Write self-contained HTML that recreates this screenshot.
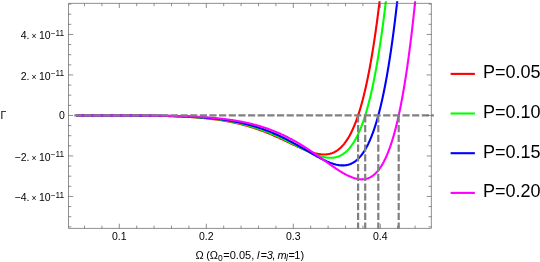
<!DOCTYPE html>
<html><head><meta charset="utf-8"><title>plot</title>
<style>html,body{margin:0;padding:0;background:#fff;}body{width:540px;height:262px;position:relative;overflow:hidden;font-family:"Liberation Sans",sans-serif;}</style></head>
<body>
<svg width="540" height="262" viewBox="0 0 540 262" style="position:absolute;left:0;top:0">
<defs><clipPath id="c"><rect x="60" y="1.2" width="380" height="230"/></clipPath></defs>
<g clip-path="url(#c)" fill="none" stroke-width="2.1" stroke-linejoin="round">
<path d="M76.06 115.45 L76.86 115.45 L77.67 115.45 L78.47 115.45 L79.27 115.45 L80.07 115.45 L80.87 115.45 L81.68 115.45 L82.48 115.45 L83.28 115.45 L84.08 115.45 L84.89 115.45 L85.69 115.46 L86.49 115.46 L87.29 115.46 L88.09 115.46 L88.90 115.46 L89.70 115.46 L90.50 115.46 L91.30 115.46 L92.10 115.46 L92.91 115.46 L93.71 115.46 L94.51 115.46 L95.31 115.46 L96.12 115.46 L96.92 115.46 L97.72 115.46 L98.52 115.46 L99.32 115.46 L100.13 115.47 L100.93 115.47 L101.73 115.47 L102.53 115.47 L103.34 115.47 L104.14 115.47 L104.94 115.47 L105.74 115.47 L106.54 115.47 L107.35 115.47 L108.15 115.48 L108.95 115.48 L109.75 115.48 L110.56 115.48 L111.36 115.48 L112.16 115.48 L112.96 115.48 L113.76 115.49 L114.57 115.49 L115.37 115.49 L116.17 115.49 L116.97 115.49 L117.77 115.50 L118.58 115.50 L119.38 115.50 L120.18 115.50 L120.98 115.51 L121.79 115.51 L122.59 115.51 L123.39 115.52 L124.19 115.52 L124.99 115.52 L125.80 115.53 L126.60 115.53 L127.40 115.53 L128.20 115.54 L129.01 115.54 L129.81 115.54 L130.61 115.55 L131.41 115.55 L132.21 115.56 L133.02 115.56 L133.82 115.57 L134.62 115.57 L135.42 115.58 L136.23 115.58 L137.03 115.59 L137.83 115.60 L138.63 115.60 L139.43 115.61 L140.24 115.61 L141.04 115.62 L141.84 115.63 L142.64 115.64 L143.44 115.64 L144.25 115.65 L145.05 115.66 L145.85 115.67 L146.65 115.68 L147.46 115.69 L148.26 115.70 L149.06 115.71 L149.86 115.72 L150.66 115.73 L151.47 115.74 L152.27 115.75 L153.07 115.76 L153.87 115.78 L154.68 115.79 L155.48 115.80 L156.28 115.82 L157.08 115.83 L157.88 115.84 L158.69 115.86 L159.49 115.87 L160.29 115.89 L161.09 115.91 L161.90 115.92 L162.70 115.94 L163.50 115.96 L164.30 115.98 L165.10 116.00 L165.91 116.02 L166.71 116.04 L167.51 116.06 L168.31 116.08 L169.11 116.11 L169.92 116.13 L170.72 116.15 L171.52 116.18 L172.32 116.20 L173.13 116.23 L173.93 116.26 L174.73 116.29 L175.53 116.32 L176.33 116.35 L177.14 116.38 L177.94 116.41 L178.74 116.44 L179.54 116.47 L180.35 116.51 L181.15 116.54 L181.95 116.58 L182.75 116.62 L183.55 116.66 L184.36 116.70 L185.16 116.74 L185.96 116.78 L186.76 116.82 L187.57 116.87 L188.37 116.91 L189.17 116.96 L189.97 117.01 L190.77 117.06 L191.58 117.11 L192.38 117.16 L193.18 117.21 L193.98 117.27 L194.78 117.33 L195.59 117.38 L196.39 117.44 L197.19 117.51 L197.99 117.57 L198.80 117.63 L199.60 117.70 L200.40 117.77 L201.20 117.84 L202.00 117.91 L202.81 117.98 L203.61 118.05 L204.41 118.13 L205.21 118.21 L206.02 118.29 L206.82 118.37 L207.62 118.46 L208.42 118.54 L209.22 118.63 L210.03 118.72 L210.83 118.81 L211.63 118.91 L212.43 119.01 L213.15 119.09 L213.86 119.18 L214.57 119.28 L215.29 119.37 L216.00 119.47 L216.71 119.56 L217.42 119.66 L218.14 119.76 L218.85 119.87 L219.56 119.97 L220.28 120.08 L220.99 120.19 L221.70 120.30 L222.42 120.41 L223.13 120.53 L223.84 120.65 L224.55 120.77 L225.27 120.89 L225.98 121.02 L226.69 121.14 L227.41 121.27 L228.12 121.40 L228.83 121.54 L229.55 121.67 L230.26 121.81 L230.97 121.95 L231.69 122.10 L232.40 122.24 L233.11 122.39 L233.82 122.54 L234.54 122.70 L235.25 122.85 L235.96 123.01 L236.68 123.18 L237.39 123.34 L238.10 123.51 L238.82 123.68 L239.53 123.85 L240.24 124.02 L240.96 124.20 L241.67 124.38 L242.38 124.57 L243.09 124.75 L243.81 124.94 L244.52 125.13 L245.23 125.33 L245.95 125.53 L246.66 125.73 L247.28 125.91 L247.91 126.09 L248.53 126.27 L249.16 126.45 L249.78 126.64 L250.40 126.83 L251.03 127.02 L251.65 127.21 L252.28 127.41 L252.90 127.61 L253.52 127.81 L254.15 128.01 L254.77 128.22 L255.39 128.43 L256.02 128.64 L256.64 128.85 L257.27 129.06 L257.89 129.28 L258.51 129.50 L259.14 129.72 L259.76 129.94 L260.39 130.17 L261.01 130.40 L261.63 130.63 L262.26 130.86 L262.88 131.09 L263.51 131.33 L264.13 131.57 L264.75 131.81 L265.38 132.06 L266.00 132.30 L266.63 132.55 L267.25 132.80 L267.87 133.05 L268.50 133.31 L269.12 133.56 L269.74 133.82 L270.37 134.08 L270.99 134.34 L271.62 134.61 L272.24 134.87 L272.86 135.14 L273.49 135.41 L274.11 135.68 L274.74 135.96 L275.36 136.23 L275.98 136.51 L276.61 136.79 L277.23 137.07 L277.86 137.35 L278.48 137.63 L279.10 137.92 L279.73 138.20 L280.35 138.49 L280.98 138.78 L281.60 139.07 L282.22 139.36 L282.85 139.65 L283.47 139.94 L284.10 140.23 L284.72 140.53 L285.34 140.82 L285.97 141.12 L286.59 141.42 L287.21 141.71 L287.84 142.01 L288.46 142.31 L289.09 142.60 L289.71 142.90 L290.33 143.20 L290.96 143.50 L291.58 143.79 L292.21 144.09 L292.83 144.39 L293.45 144.68 L294.08 144.98 L294.70 145.27 L295.33 145.56 L295.95 145.86 L296.57 146.15 L297.20 146.44 L297.82 146.72 L298.45 147.01 L299.07 147.29 L299.69 147.57 L300.32 147.85 L300.94 148.13 L301.57 148.40 L302.19 148.68 L302.81 148.94 L303.44 149.21 L304.06 149.47 L304.68 149.73 L305.31 149.98 L305.93 150.23 L306.56 150.48 L307.18 150.72 L307.80 150.96 L308.43 151.19 L309.05 151.42 L309.68 151.64 L310.30 151.85 L310.92 152.06 L311.55 152.27 L312.17 152.46 L312.80 152.65 L313.42 152.83 L314.13 153.03 L314.85 153.22 L315.56 153.40 L316.27 153.56 L316.98 153.72 L317.70 153.86 L318.41 153.99 L319.12 154.10 L319.84 154.21 L320.64 154.30 L321.44 154.38 L322.24 154.44 L323.05 154.47 L323.85 154.49 L324.65 154.48 L325.45 154.44 L326.25 154.38 L327.06 154.30 L327.77 154.20 L328.48 154.08 L329.20 153.94 L329.91 153.77 L330.62 153.57 L331.25 153.38 L331.87 153.17 L332.49 152.94 L333.12 152.69 L333.74 152.41 L334.37 152.11 L334.90 151.84 L335.44 151.55 L335.97 151.23 L336.50 150.91 L337.04 150.56 L337.57 150.19 L338.11 149.80 L338.64 149.39 L339.09 149.03 L339.54 148.66 L339.98 148.28 L340.43 147.87 L340.87 147.46 L341.32 147.02 L341.76 146.57 L342.21 146.10 L342.65 145.62 L343.10 145.12 L343.55 144.60 L343.99 144.06 L344.35 143.62 L344.70 143.16 L345.06 142.69 L345.42 142.21 L345.77 141.72 L346.13 141.21 L346.49 140.70 L346.84 140.17 L347.20 139.62 L347.56 139.06 L347.91 138.49 L348.27 137.91 L348.63 137.31 L348.98 136.69 L349.34 136.06 L349.70 135.42 L350.05 134.76 L350.41 134.09 L350.77 133.40 L351.12 132.70 L351.39 132.16 L351.66 131.61 L351.92 131.06 L352.19 130.49 L352.46 129.92 L352.73 129.33 L352.99 128.74 L353.26 128.14 L353.53 127.52 L353.80 126.90 L354.06 126.27 L354.33 125.63 L354.60 124.97 L354.87 124.31 L355.13 123.64 L355.40 122.95 L355.67 122.26 L355.94 121.56 L356.20 120.84 L356.47 120.12 L356.74 119.38 L357.01 118.63 L357.27 117.87 L357.54 117.10 L357.81 116.32 L358.07 115.53 L358.34 114.72 L358.61 113.90 L358.88 113.08 L359.14 112.23 L359.41 111.38 L359.68 110.52 L359.95 109.64 L360.21 108.75 L360.48 107.85 L360.75 106.93 L361.02 106.00 L361.19 105.38 L361.37 104.75 L361.55 104.11 L361.73 103.46 L361.91 102.82 L362.09 102.16 L362.26 101.50 L362.44 100.83 L362.62 100.16 L362.80 99.48 L362.98 98.79 L363.16 98.10 L363.33 97.40 L363.51 96.70 L363.69 95.99 L363.87 95.27 L364.05 94.54 L364.22 93.81 L364.40 93.08 L364.58 92.33 L364.76 91.58 L364.94 90.83 L365.12 90.06 L365.29 89.29 L365.47 88.52 L365.65 87.73 L365.83 86.94 L366.01 86.15 L366.19 85.34 L366.36 84.53 L366.54 83.71 L366.72 82.89 L366.90 82.05 L367.08 81.21 L367.26 80.37 L367.43 79.51 L367.61 78.65 L367.79 77.78 L367.97 76.91 L368.15 76.02 L368.32 75.13 L368.50 74.23 L368.68 73.33 L368.86 72.41 L369.04 71.49 L369.22 70.56 L369.39 69.62 L369.57 68.68 L369.75 67.72 L369.93 66.76 L370.11 65.79 L370.29 64.82 L370.46 63.83 L370.64 62.84 L370.82 61.84 L371.00 60.83 L371.18 59.81 L371.36 58.78 L371.53 57.75 L371.71 56.70 L371.89 55.65 L372.07 54.59 L372.25 53.52 L372.43 52.44 L372.60 51.36 L372.78 50.26 L372.96 49.16 L373.14 48.04 L373.32 46.92 L373.49 45.79 L373.67 44.65 L373.85 43.50 L374.03 42.34 L374.21 41.17 L374.39 40.00 L374.56 38.81 L374.74 37.61 L374.92 36.41 L375.10 35.19 L375.28 33.97 L375.46 32.73 L375.63 31.49 L375.81 30.24 L375.99 28.97 L376.17 27.70 L376.35 26.42 L376.53 25.12 L376.70 23.82 L376.88 22.50 L377.06 21.18 L377.24 19.84 L377.42 18.50 L377.59 17.14 L377.77 15.78 L377.95 14.40 L378.13 13.02 L378.31 11.62 L378.49 10.21 L378.66 8.79 L378.75 8.08 L378.84 7.36 L378.93 6.64 L379.02 5.92 L379.11 5.19 L379.20 4.47 L379.29 3.74 L379.38 3.00 L379.47 2.27 L379.56 1.53 L379.64 0.79 L379.73 0.04 L379.82 -0.70 L379.91 -1.45 L380.00 -2.20 L380.09 -2.96" stroke="#ff0000"/>
<path d="M76.06 115.45 L76.86 115.45 L77.67 115.45 L78.47 115.45 L79.27 115.45 L80.07 115.45 L80.87 115.45 L81.68 115.45 L82.48 115.45 L83.28 115.45 L84.08 115.45 L84.89 115.45 L85.69 115.45 L86.49 115.46 L87.29 115.46 L88.09 115.46 L88.90 115.46 L89.70 115.46 L90.50 115.46 L91.30 115.46 L92.10 115.46 L92.91 115.46 L93.71 115.46 L94.51 115.46 L95.31 115.46 L96.12 115.46 L96.92 115.46 L97.72 115.46 L98.52 115.46 L99.32 115.46 L100.13 115.46 L100.93 115.46 L101.73 115.47 L102.53 115.47 L103.34 115.47 L104.14 115.47 L104.94 115.47 L105.74 115.47 L106.54 115.47 L107.35 115.47 L108.15 115.47 L108.95 115.47 L109.75 115.48 L110.56 115.48 L111.36 115.48 L112.16 115.48 L112.96 115.48 L113.76 115.48 L114.57 115.49 L115.37 115.49 L116.17 115.49 L116.97 115.49 L117.77 115.49 L118.58 115.49 L119.38 115.50 L120.18 115.50 L120.98 115.50 L121.79 115.50 L122.59 115.51 L123.39 115.51 L124.19 115.51 L124.99 115.52 L125.80 115.52 L126.60 115.52 L127.40 115.52 L128.20 115.53 L129.01 115.53 L129.81 115.54 L130.61 115.54 L131.41 115.54 L132.21 115.55 L133.02 115.55 L133.82 115.56 L134.62 115.56 L135.42 115.57 L136.23 115.57 L137.03 115.58 L137.83 115.58 L138.63 115.59 L139.43 115.59 L140.24 115.60 L141.04 115.61 L141.84 115.61 L142.64 115.62 L143.44 115.63 L144.25 115.63 L145.05 115.64 L145.85 115.65 L146.65 115.66 L147.46 115.67 L148.26 115.68 L149.06 115.69 L149.86 115.69 L150.66 115.70 L151.47 115.71 L152.27 115.73 L153.07 115.74 L153.87 115.75 L154.68 115.76 L155.48 115.77 L156.28 115.78 L157.08 115.80 L157.88 115.81 L158.69 115.82 L159.49 115.84 L160.29 115.85 L161.09 115.87 L161.90 115.88 L162.70 115.90 L163.50 115.92 L164.30 115.93 L165.10 115.95 L165.91 115.97 L166.71 115.99 L167.51 116.01 L168.31 116.03 L169.11 116.05 L169.92 116.07 L170.72 116.09 L171.52 116.12 L172.32 116.14 L173.13 116.17 L173.93 116.19 L174.73 116.22 L175.53 116.24 L176.33 116.27 L177.14 116.30 L177.94 116.33 L178.74 116.36 L179.54 116.39 L180.35 116.42 L181.15 116.45 L181.95 116.49 L182.75 116.52 L183.55 116.56 L184.36 116.60 L185.16 116.63 L185.96 116.67 L186.76 116.71 L187.57 116.75 L188.37 116.80 L189.17 116.84 L189.97 116.88 L190.77 116.93 L191.58 116.98 L192.38 117.02 L193.18 117.07 L193.98 117.13 L194.78 117.18 L195.59 117.23 L196.39 117.29 L197.19 117.34 L197.99 117.40 L198.80 117.46 L199.60 117.52 L200.40 117.59 L201.20 117.65 L202.00 117.72 L202.81 117.78 L203.61 117.85 L204.41 117.93 L205.21 118.00 L206.02 118.07 L206.82 118.15 L207.62 118.23 L208.42 118.31 L209.22 118.39 L210.03 118.48 L210.83 118.56 L211.63 118.65 L212.43 118.74 L213.24 118.83 L214.04 118.93 L214.84 119.03 L215.55 119.11 L216.27 119.21 L216.98 119.30 L217.69 119.39 L218.40 119.49 L219.12 119.58 L219.83 119.68 L220.54 119.78 L221.26 119.89 L221.97 119.99 L222.68 120.10 L223.40 120.21 L224.11 120.32 L224.82 120.44 L225.54 120.55 L226.25 120.67 L226.96 120.79 L227.67 120.91 L228.39 121.04 L229.10 121.17 L229.81 121.30 L230.53 121.43 L231.24 121.56 L231.95 121.70 L232.67 121.84 L233.38 121.98 L234.09 122.12 L234.81 122.27 L235.52 122.42 L236.23 122.57 L236.94 122.72 L237.66 122.88 L238.37 123.04 L239.08 123.20 L239.80 123.37 L240.51 123.54 L241.22 123.71 L241.94 123.88 L242.65 124.06 L243.36 124.23 L244.07 124.42 L244.79 124.60 L245.50 124.79 L246.21 124.98 L246.93 125.17 L247.64 125.37 L248.35 125.57 L248.98 125.74 L249.60 125.92 L250.22 126.10 L250.85 126.29 L251.47 126.47 L252.10 126.66 L252.72 126.85 L253.34 127.04 L253.97 127.24 L254.59 127.44 L255.22 127.64 L255.84 127.84 L256.46 128.04 L257.09 128.25 L257.71 128.46 L258.34 128.67 L258.96 128.88 L259.58 129.10 L260.21 129.32 L260.83 129.54 L261.46 129.77 L262.08 129.99 L262.70 130.22 L263.33 130.45 L263.95 130.69 L264.58 130.92 L265.20 131.16 L265.82 131.40 L266.45 131.64 L267.07 131.89 L267.69 132.14 L268.32 132.39 L268.94 132.64 L269.57 132.89 L270.19 133.15 L270.81 133.41 L271.44 133.67 L272.06 133.93 L272.69 134.20 L273.31 134.47 L273.93 134.74 L274.56 135.01 L275.18 135.29 L275.81 135.56 L276.43 135.84 L277.05 136.12 L277.68 136.41 L278.30 136.69 L278.93 136.98 L279.55 137.27 L280.17 137.56 L280.80 137.85 L281.42 138.14 L282.05 138.44 L282.67 138.74 L283.29 139.03 L283.92 139.34 L284.54 139.64 L285.16 139.94 L285.79 140.25 L286.41 140.55 L287.04 140.86 L287.66 141.17 L288.20 141.44 L288.73 141.70 L289.26 141.97 L289.80 142.24 L290.33 142.51 L290.87 142.77 L291.40 143.04 L291.94 143.31 L292.47 143.58 L293.01 143.86 L293.54 144.13 L294.08 144.40 L294.61 144.67 L295.15 144.94 L295.68 145.21 L296.22 145.49 L296.75 145.76 L297.29 146.03 L297.82 146.30 L298.36 146.57 L298.89 146.84 L299.43 147.11 L299.96 147.38 L300.50 147.65 L301.03 147.92 L301.57 148.19 L302.10 148.45 L302.63 148.72 L303.26 149.03 L303.88 149.33 L304.51 149.64 L305.13 149.94 L305.75 150.24 L306.38 150.54 L307.00 150.84 L307.63 151.13 L308.25 151.42 L308.87 151.71 L309.50 151.99 L310.12 152.27 L310.75 152.55 L311.37 152.82 L311.99 153.09 L312.62 153.35 L313.24 153.61 L313.87 153.87 L314.49 154.12 L315.11 154.36 L315.74 154.60 L316.36 154.83 L316.98 155.06 L317.61 155.28 L318.23 155.49 L318.86 155.69 L319.48 155.89 L320.10 156.08 L320.73 156.26 L321.44 156.46 L322.15 156.65 L322.87 156.82 L323.58 156.99 L324.29 157.14 L325.01 157.27 L325.72 157.39 L326.43 157.50 L327.15 157.59 L327.95 157.67 L328.75 157.73 L329.55 157.77 L330.35 157.79 L331.16 157.78 L331.96 157.75 L332.76 157.69 L333.56 157.60 L334.28 157.50 L334.99 157.38 L335.70 157.23 L336.42 157.05 L337.13 156.85 L337.75 156.65 L338.38 156.44 L339.00 156.20 L339.62 155.93 L340.25 155.65 L340.87 155.34 L341.41 155.05 L341.94 154.75 L342.48 154.43 L343.01 154.08 L343.55 153.72 L344.08 153.34 L344.62 152.94 L345.15 152.51 L345.60 152.14 L346.04 151.76 L346.49 151.35 L346.93 150.94 L347.38 150.50 L347.82 150.05 L348.27 149.58 L348.72 149.10 L349.16 148.60 L349.61 148.07 L350.05 147.53 L350.41 147.09 L350.77 146.63 L351.12 146.16 L351.48 145.68 L351.84 145.19 L352.19 144.68 L352.55 144.16 L352.91 143.62 L353.26 143.08 L353.62 142.51 L353.97 141.94 L354.33 141.35 L354.69 140.75 L355.04 140.13 L355.40 139.49 L355.76 138.85 L356.11 138.18 L356.47 137.51 L356.83 136.81 L357.18 136.10 L357.45 135.56 L357.72 135.01 L357.99 134.45 L358.25 133.88 L358.52 133.30 L358.79 132.71 L359.06 132.11 L359.32 131.50 L359.59 130.88 L359.86 130.25 L360.12 129.61 L360.39 128.96 L360.66 128.31 L360.93 127.64 L361.19 126.96 L361.46 126.27 L361.73 125.57 L362.00 124.85 L362.26 124.13 L362.53 123.40 L362.80 122.65 L363.07 121.90 L363.33 121.13 L363.60 120.35 L363.87 119.56 L364.14 118.76 L364.40 117.95 L364.67 117.12 L364.94 116.28 L365.21 115.43 L365.47 114.57 L365.74 113.70 L366.01 112.81 L366.27 111.91 L366.54 111.00 L366.81 110.07 L366.99 109.45 L367.17 108.82 L367.34 108.18 L367.52 107.54 L367.70 106.89 L367.88 106.24 L368.06 105.58 L368.24 104.91 L368.41 104.24 L368.59 103.56 L368.77 102.88 L368.95 102.18 L369.13 101.49 L369.31 100.78 L369.48 100.07 L369.66 99.36 L369.84 98.64 L370.02 97.91 L370.20 97.17 L370.37 96.43 L370.55 95.68 L370.73 94.92 L370.91 94.16 L371.09 93.39 L371.27 92.62 L371.44 91.83 L371.62 91.04 L371.80 90.25 L371.98 89.44 L372.16 88.63 L372.34 87.82 L372.51 86.99 L372.69 86.16 L372.87 85.32 L373.05 84.47 L373.23 83.62 L373.41 82.76 L373.58 81.89 L373.76 81.01 L373.94 80.13 L374.12 79.24 L374.30 78.34 L374.48 77.44 L374.65 76.52 L374.83 75.60 L375.01 74.67 L375.19 73.73 L375.37 72.79 L375.54 71.84 L375.72 70.87 L375.90 69.91 L376.08 68.93 L376.26 67.94 L376.44 66.95 L376.61 65.95 L376.79 64.94 L376.97 63.92 L377.15 62.89 L377.33 61.86 L377.51 60.81 L377.68 59.76 L377.86 58.70 L378.04 57.63 L378.22 56.55 L378.40 55.47 L378.58 54.37 L378.75 53.26 L378.93 52.15 L379.11 51.03 L379.29 49.90 L379.47 48.75 L379.64 47.60 L379.82 46.44 L380.00 45.28 L380.18 44.10 L380.36 42.91 L380.54 41.71 L380.71 40.51 L380.89 39.29 L381.07 38.06 L381.25 36.83 L381.43 35.58 L381.61 34.33 L381.78 33.06 L381.96 31.79 L382.14 30.50 L382.32 29.21 L382.50 27.90 L382.68 26.59 L382.85 25.26 L383.03 23.92 L383.21 22.58 L383.39 21.22 L383.57 19.85 L383.74 18.48 L383.92 17.09 L384.10 15.69 L384.28 14.28 L384.46 12.86 L384.55 12.14 L384.64 11.42 L384.73 10.70 L384.81 9.98 L384.90 9.25 L384.99 8.53 L385.08 7.80 L385.17 7.06 L385.26 6.32 L385.35 5.58 L385.44 4.84 L385.53 4.10 L385.62 3.35 L385.71 2.60 L385.79 1.84 L385.88 1.09 L385.97 0.33 L386.06 -0.43 L386.15 -1.20 L386.24 -1.97 L386.33 -2.74" stroke="#00ff00"/>
<path d="M76.06 115.45 L76.86 115.45 L77.67 115.45 L78.47 115.45 L79.27 115.45 L80.07 115.45 L80.87 115.45 L81.68 115.45 L82.48 115.45 L83.28 115.45 L84.08 115.45 L84.89 115.45 L85.69 115.45 L86.49 115.45 L87.29 115.45 L88.09 115.45 L88.90 115.46 L89.70 115.46 L90.50 115.46 L91.30 115.46 L92.10 115.46 L92.91 115.46 L93.71 115.46 L94.51 115.46 L95.31 115.46 L96.12 115.46 L96.92 115.46 L97.72 115.46 L98.52 115.46 L99.32 115.46 L100.13 115.46 L100.93 115.46 L101.73 115.46 L102.53 115.46 L103.34 115.46 L104.14 115.47 L104.94 115.47 L105.74 115.47 L106.54 115.47 L107.35 115.47 L108.15 115.47 L108.95 115.47 L109.75 115.47 L110.56 115.47 L111.36 115.47 L112.16 115.48 L112.96 115.48 L113.76 115.48 L114.57 115.48 L115.37 115.48 L116.17 115.48 L116.97 115.48 L117.77 115.49 L118.58 115.49 L119.38 115.49 L120.18 115.49 L120.98 115.49 L121.79 115.50 L122.59 115.50 L123.39 115.50 L124.19 115.50 L124.99 115.51 L125.80 115.51 L126.60 115.51 L127.40 115.51 L128.20 115.52 L129.01 115.52 L129.81 115.52 L130.61 115.53 L131.41 115.53 L132.21 115.53 L133.02 115.54 L133.82 115.54 L134.62 115.55 L135.42 115.55 L136.23 115.55 L137.03 115.56 L137.83 115.56 L138.63 115.57 L139.43 115.57 L140.24 115.58 L141.04 115.58 L141.84 115.59 L142.64 115.60 L143.44 115.60 L144.25 115.61 L145.05 115.62 L145.85 115.62 L146.65 115.63 L147.46 115.64 L148.26 115.64 L149.06 115.65 L149.86 115.66 L150.66 115.67 L151.47 115.68 L152.27 115.69 L153.07 115.70 L153.87 115.71 L154.68 115.72 L155.48 115.73 L156.28 115.74 L157.08 115.75 L157.88 115.76 L158.69 115.77 L159.49 115.79 L160.29 115.80 L161.09 115.81 L161.90 115.83 L162.70 115.84 L163.50 115.85 L164.30 115.87 L165.10 115.89 L165.91 115.90 L166.71 115.92 L167.51 115.93 L168.31 115.95 L169.11 115.97 L169.92 115.99 L170.72 116.01 L171.52 116.03 L172.32 116.05 L173.13 116.07 L173.93 116.09 L174.73 116.12 L175.53 116.14 L176.33 116.16 L177.14 116.19 L177.94 116.21 L178.74 116.24 L179.54 116.27 L180.35 116.30 L181.15 116.32 L181.95 116.35 L182.75 116.38 L183.55 116.42 L184.36 116.45 L185.16 116.48 L185.96 116.52 L186.76 116.55 L187.57 116.59 L188.37 116.63 L189.17 116.66 L189.97 116.70 L190.77 116.74 L191.58 116.78 L192.38 116.83 L193.18 116.87 L193.98 116.92 L194.78 116.96 L195.59 117.01 L196.39 117.06 L197.19 117.11 L197.99 117.16 L198.80 117.21 L199.60 117.27 L200.40 117.33 L201.20 117.38 L202.00 117.44 L202.81 117.50 L203.61 117.56 L204.41 117.63 L205.21 117.69 L206.02 117.76 L206.82 117.83 L207.62 117.90 L208.42 117.97 L209.22 118.04 L210.03 118.12 L210.83 118.20 L211.63 118.28 L212.43 118.36 L213.24 118.44 L214.04 118.53 L214.84 118.61 L215.64 118.70 L216.44 118.79 L217.25 118.89 L218.05 118.98 L218.76 119.07 L219.47 119.16 L220.19 119.25 L220.90 119.34 L221.61 119.44 L222.33 119.53 L223.04 119.63 L223.75 119.73 L224.47 119.83 L225.18 119.94 L225.89 120.04 L226.61 120.15 L227.32 120.26 L228.03 120.37 L228.74 120.49 L229.46 120.60 L230.17 120.72 L230.88 120.85 L231.60 120.97 L232.31 121.09 L233.02 121.22 L233.74 121.35 L234.45 121.49 L235.16 121.62 L235.87 121.76 L236.59 121.90 L237.30 122.04 L238.01 122.19 L238.73 122.34 L239.44 122.49 L240.15 122.64 L240.87 122.80 L241.58 122.95 L242.29 123.12 L243.01 123.28 L243.72 123.45 L244.43 123.62 L245.14 123.79 L245.86 123.96 L246.57 124.14 L247.28 124.32 L248.00 124.51 L248.71 124.69 L249.42 124.88 L250.14 125.08 L250.85 125.27 L251.56 125.47 L252.19 125.65 L252.81 125.83 L253.43 126.01 L254.06 126.19 L254.68 126.38 L255.31 126.57 L255.93 126.76 L256.55 126.95 L257.18 127.15 L257.80 127.35 L258.43 127.55 L259.05 127.75 L259.67 127.96 L260.30 128.17 L260.92 128.38 L261.54 128.59 L262.17 128.81 L262.79 129.03 L263.42 129.25 L264.04 129.48 L264.66 129.70 L265.29 129.93 L265.91 130.17 L266.54 130.40 L267.16 130.64 L267.78 130.88 L268.41 131.12 L269.03 131.37 L269.66 131.62 L270.28 131.87 L270.90 132.12 L271.53 132.38 L272.15 132.64 L272.78 132.90 L273.40 133.16 L274.02 133.43 L274.65 133.70 L275.27 133.97 L275.90 134.24 L276.52 134.52 L277.14 134.80 L277.77 135.08 L278.39 135.37 L279.01 135.66 L279.64 135.95 L280.26 136.24 L280.89 136.54 L281.51 136.83 L282.13 137.13 L282.76 137.44 L283.38 137.74 L284.01 138.05 L284.54 138.32 L285.08 138.58 L285.61 138.85 L286.15 139.12 L286.68 139.40 L287.21 139.67 L287.75 139.95 L288.28 140.23 L288.82 140.50 L289.35 140.79 L289.89 141.07 L290.42 141.35 L290.96 141.64 L291.49 141.92 L292.03 142.21 L292.56 142.50 L293.10 142.79 L293.63 143.09 L294.17 143.38 L294.70 143.67 L295.24 143.97 L295.77 144.27 L296.31 144.57 L296.84 144.87 L297.38 145.17 L297.91 145.47 L298.45 145.77 L298.98 146.08 L299.52 146.38 L300.05 146.69 L300.58 146.99 L301.12 147.30 L301.65 147.61 L302.19 147.92 L302.72 148.22 L303.26 148.53 L303.79 148.84 L304.33 149.15 L304.86 149.46 L305.40 149.78 L305.93 150.09 L306.47 150.40 L307.00 150.71 L307.54 151.02 L308.07 151.33 L308.61 151.64 L309.14 151.95 L309.68 152.26 L310.21 152.57 L310.75 152.88 L311.28 153.19 L311.82 153.50 L312.35 153.80 L312.88 154.11 L313.42 154.41 L313.95 154.72 L314.49 155.02 L315.02 155.32 L315.56 155.62 L316.09 155.92 L316.63 156.22 L317.16 156.51 L317.70 156.80 L318.23 157.10 L318.77 157.38 L319.30 157.67 L319.84 157.95 L320.37 158.24 L320.91 158.52 L321.44 158.79 L321.98 159.06 L322.51 159.33 L323.05 159.60 L323.67 159.91 L324.29 160.21 L324.92 160.51 L325.54 160.80 L326.17 161.08 L326.79 161.36 L327.41 161.64 L328.04 161.90 L328.66 162.16 L329.29 162.42 L329.91 162.66 L330.53 162.90 L331.16 163.13 L331.78 163.35 L332.40 163.56 L333.03 163.76 L333.65 163.95 L334.28 164.14 L334.99 164.33 L335.70 164.52 L336.42 164.68 L337.13 164.84 L337.84 164.97 L338.55 165.09 L339.27 165.20 L340.07 165.29 L340.87 165.36 L341.67 165.40 L342.48 165.42 L343.28 165.42 L344.08 165.38 L344.88 165.32 L345.69 165.22 L346.40 165.11 L347.11 164.97 L347.82 164.81 L348.54 164.62 L349.16 164.43 L349.79 164.21 L350.41 163.97 L351.03 163.71 L351.66 163.43 L352.19 163.16 L352.73 162.88 L353.26 162.57 L353.80 162.25 L354.33 161.90 L354.87 161.54 L355.40 161.15 L355.94 160.74 L356.38 160.38 L356.83 160.01 L357.27 159.61 L357.72 159.21 L358.16 158.78 L358.61 158.34 L359.06 157.88 L359.50 157.40 L359.95 156.91 L360.39 156.39 L360.84 155.86 L361.28 155.30 L361.64 154.85 L362.00 154.38 L362.35 153.89 L362.71 153.40 L363.07 152.89 L363.42 152.37 L363.78 151.83 L364.14 151.28 L364.49 150.71 L364.85 150.13 L365.21 149.54 L365.56 148.93 L365.92 148.31 L366.27 147.67 L366.63 147.01 L366.99 146.34 L367.34 145.66 L367.70 144.95 L367.97 144.41 L368.24 143.87 L368.50 143.31 L368.77 142.74 L369.04 142.17 L369.31 141.58 L369.57 140.99 L369.84 140.38 L370.11 139.77 L370.37 139.14 L370.64 138.51 L370.91 137.86 L371.18 137.20 L371.44 136.54 L371.71 135.86 L371.98 135.17 L372.25 134.47 L372.51 133.76 L372.78 133.04 L373.05 132.30 L373.32 131.56 L373.58 130.80 L373.85 130.04 L374.12 129.26 L374.39 128.47 L374.65 127.66 L374.92 126.85 L375.19 126.02 L375.46 125.18 L375.72 124.33 L375.99 123.46 L376.26 122.59 L376.53 121.70 L376.79 120.79 L377.06 119.88 L377.33 118.95 L377.51 118.32 L377.68 117.69 L377.86 117.05 L378.04 116.40 L378.22 115.75 L378.40 115.09 L378.58 114.43 L378.75 113.76 L378.93 113.08 L379.11 112.40 L379.29 111.71 L379.47 111.01 L379.64 110.31 L379.82 109.60 L380.00 108.89 L380.18 108.17 L380.36 107.44 L380.54 106.71 L380.71 105.96 L380.89 105.22 L381.07 104.46 L381.25 103.70 L381.43 102.93 L381.61 102.16 L381.78 101.37 L381.96 100.58 L382.14 99.79 L382.32 98.98 L382.50 98.17 L382.68 97.36 L382.85 96.53 L383.03 95.70 L383.21 94.86 L383.39 94.01 L383.57 93.16 L383.74 92.29 L383.92 91.42 L384.10 90.55 L384.28 89.66 L384.46 88.77 L384.64 87.87 L384.81 86.96 L384.99 86.05 L385.17 85.12 L385.35 84.19 L385.53 83.25 L385.71 82.30 L385.88 81.35 L386.06 80.38 L386.24 79.41 L386.42 78.43 L386.60 77.44 L386.78 76.44 L386.95 75.44 L387.13 74.43 L387.31 73.40 L387.49 72.37 L387.67 71.33 L387.84 70.28 L388.02 69.23 L388.20 68.16 L388.38 67.09 L388.56 66.00 L388.74 64.91 L388.91 63.81 L389.09 62.70 L389.27 61.58 L389.45 60.45 L389.63 59.31 L389.81 58.17 L389.98 57.01 L390.16 55.84 L390.34 54.67 L390.52 53.48 L390.70 52.29 L390.88 51.08 L391.05 49.87 L391.23 48.65 L391.41 47.41 L391.59 46.17 L391.77 44.92 L391.94 43.65 L392.12 42.38 L392.30 41.09 L392.48 39.80 L392.66 38.50 L392.84 37.18 L393.01 35.86 L393.19 34.52 L393.37 33.18 L393.55 31.82 L393.73 30.45 L393.91 29.07 L394.08 27.69 L394.26 26.29 L394.44 24.88 L394.62 23.45 L394.71 22.74 L394.80 22.02 L394.89 21.30 L394.98 20.58 L395.06 19.85 L395.15 19.12 L395.24 18.39 L395.33 17.66 L395.42 16.92 L395.51 16.18 L395.60 15.44 L395.69 14.69 L395.78 13.94 L395.87 13.19 L395.96 12.43 L396.04 11.68 L396.13 10.92 L396.22 10.15 L396.31 9.39 L396.40 8.62 L396.49 7.85 L396.58 7.07 L396.67 6.29 L396.76 5.51 L396.85 4.73 L396.94 3.94 L397.03 3.15 L397.11 2.36 L397.20 1.56 L397.29 0.76 L397.38 -0.04 L397.47 -0.84 L397.56 -1.65 L397.65 -2.46" stroke="#0000ff"/>
<path d="M76.06 115.45 L76.86 115.45 L77.67 115.45 L78.47 115.45 L79.27 115.45 L80.07 115.45 L80.87 115.45 L81.68 115.45 L82.48 115.45 L83.28 115.45 L84.08 115.45 L84.89 115.45 L85.69 115.45 L86.49 115.45 L87.29 115.45 L88.09 115.45 L88.90 115.45 L89.70 115.45 L90.50 115.45 L91.30 115.45 L92.10 115.46 L92.91 115.46 L93.71 115.46 L94.51 115.46 L95.31 115.46 L96.12 115.46 L96.92 115.46 L97.72 115.46 L98.52 115.46 L99.32 115.46 L100.13 115.46 L100.93 115.46 L101.73 115.46 L102.53 115.46 L103.34 115.46 L104.14 115.46 L104.94 115.46 L105.74 115.46 L106.54 115.46 L107.35 115.46 L108.15 115.47 L108.95 115.47 L109.75 115.47 L110.56 115.47 L111.36 115.47 L112.16 115.47 L112.96 115.47 L113.76 115.47 L114.57 115.47 L115.37 115.47 L116.17 115.48 L116.97 115.48 L117.77 115.48 L118.58 115.48 L119.38 115.48 L120.18 115.48 L120.98 115.48 L121.79 115.49 L122.59 115.49 L123.39 115.49 L124.19 115.49 L124.99 115.49 L125.80 115.50 L126.60 115.50 L127.40 115.50 L128.20 115.50 L129.01 115.51 L129.81 115.51 L130.61 115.51 L131.41 115.51 L132.21 115.52 L133.02 115.52 L133.82 115.52 L134.62 115.53 L135.42 115.53 L136.23 115.53 L137.03 115.54 L137.83 115.54 L138.63 115.54 L139.43 115.55 L140.24 115.55 L141.04 115.56 L141.84 115.56 L142.64 115.57 L143.44 115.57 L144.25 115.58 L145.05 115.58 L145.85 115.59 L146.65 115.59 L147.46 115.60 L148.26 115.60 L149.06 115.61 L149.86 115.62 L150.66 115.62 L151.47 115.63 L152.27 115.64 L153.07 115.65 L153.87 115.65 L154.68 115.66 L155.48 115.67 L156.28 115.68 L157.08 115.69 L157.88 115.70 L158.69 115.71 L159.49 115.72 L160.29 115.73 L161.09 115.74 L161.90 115.75 L162.70 115.76 L163.50 115.77 L164.30 115.78 L165.10 115.80 L165.91 115.81 L166.71 115.82 L167.51 115.84 L168.31 115.85 L169.11 115.87 L169.92 115.88 L170.72 115.90 L171.52 115.91 L172.32 115.93 L173.13 115.95 L173.93 115.97 L174.73 115.98 L175.53 116.00 L176.33 116.02 L177.14 116.04 L177.94 116.06 L178.74 116.09 L179.54 116.11 L180.35 116.13 L181.15 116.15 L181.95 116.18 L182.75 116.20 L183.55 116.23 L184.36 116.25 L185.16 116.28 L185.96 116.31 L186.76 116.34 L187.57 116.37 L188.37 116.40 L189.17 116.43 L189.97 116.46 L190.77 116.50 L191.58 116.53 L192.38 116.56 L193.18 116.60 L193.98 116.64 L194.78 116.68 L195.59 116.72 L196.39 116.76 L197.19 116.80 L197.99 116.84 L198.80 116.88 L199.60 116.93 L200.40 116.97 L201.20 117.02 L202.00 117.07 L202.81 117.12 L203.61 117.17 L204.41 117.22 L205.21 117.28 L206.02 117.33 L206.82 117.39 L207.62 117.45 L208.42 117.51 L209.22 117.57 L210.03 117.63 L210.83 117.70 L211.63 117.76 L212.43 117.83 L213.24 117.90 L214.04 117.97 L214.84 118.04 L215.64 118.12 L216.44 118.20 L217.25 118.27 L218.05 118.35 L218.85 118.44 L219.65 118.52 L220.45 118.61 L221.26 118.69 L222.06 118.79 L222.86 118.88 L223.66 118.97 L224.47 119.07 L225.18 119.16 L225.89 119.25 L226.61 119.34 L227.32 119.43 L228.03 119.53 L228.74 119.63 L229.46 119.72 L230.17 119.83 L230.88 119.93 L231.60 120.03 L232.31 120.14 L233.02 120.25 L233.74 120.36 L234.45 120.48 L235.16 120.59 L235.87 120.71 L236.59 120.83 L237.30 120.95 L238.01 121.08 L238.73 121.21 L239.44 121.33 L240.15 121.47 L240.87 121.60 L241.58 121.74 L242.29 121.88 L243.01 122.02 L243.72 122.16 L244.43 122.31 L245.14 122.46 L245.86 122.61 L246.57 122.77 L247.28 122.93 L248.00 123.09 L248.71 123.25 L249.42 123.42 L250.14 123.59 L250.85 123.76 L251.56 123.93 L252.28 124.11 L252.99 124.29 L253.70 124.48 L254.41 124.66 L255.13 124.85 L255.84 125.05 L256.55 125.24 L257.27 125.44 L257.89 125.62 L258.51 125.80 L259.14 125.98 L259.76 126.17 L260.39 126.35 L261.01 126.54 L261.63 126.74 L262.26 126.93 L262.88 127.13 L263.51 127.33 L264.13 127.53 L264.75 127.74 L265.38 127.95 L266.00 128.16 L266.63 128.37 L267.25 128.59 L267.87 128.81 L268.50 129.03 L269.12 129.26 L269.74 129.48 L270.37 129.71 L270.99 129.95 L271.62 130.18 L272.24 130.42 L272.86 130.67 L273.49 130.91 L274.11 131.16 L274.74 131.41 L275.36 131.67 L275.98 131.92 L276.61 132.18 L277.23 132.45 L277.86 132.71 L278.48 132.98 L279.10 133.25 L279.73 133.53 L280.35 133.81 L280.98 134.09 L281.60 134.37 L282.22 134.66 L282.85 134.95 L283.47 135.24 L284.10 135.54 L284.72 135.84 L285.34 136.14 L285.97 136.45 L286.59 136.76 L287.13 137.02 L287.66 137.29 L288.20 137.57 L288.73 137.84 L289.26 138.12 L289.80 138.39 L290.33 138.68 L290.87 138.96 L291.40 139.24 L291.94 139.53 L292.47 139.82 L293.01 140.11 L293.54 140.41 L294.08 140.71 L294.61 141.00 L295.15 141.31 L295.68 141.61 L296.22 141.91 L296.75 142.22 L297.29 142.53 L297.82 142.84 L298.36 143.16 L298.89 143.47 L299.43 143.79 L299.96 144.11 L300.50 144.44 L301.03 144.76 L301.57 145.09 L302.10 145.41 L302.63 145.75 L303.17 146.08 L303.70 146.41 L304.24 146.75 L304.77 147.09 L305.31 147.43 L305.84 147.77 L306.38 148.11 L306.91 148.46 L307.45 148.81 L307.98 149.16 L308.52 149.51 L309.05 149.86 L309.59 150.21 L310.12 150.57 L310.66 150.93 L311.19 151.29 L311.73 151.65 L312.26 152.01 L312.80 152.37 L313.33 152.74 L313.87 153.10 L314.40 153.47 L314.93 153.84 L315.47 154.21 L316.00 154.58 L316.54 154.95 L317.07 155.32 L317.61 155.70 L318.14 156.07 L318.68 156.44 L319.21 156.82 L319.75 157.20 L320.28 157.58 L320.82 157.95 L321.35 158.33 L321.89 158.71 L322.42 159.09 L322.96 159.47 L323.49 159.85 L324.03 160.23 L324.56 160.61 L325.10 160.99 L325.63 161.37 L326.17 161.75 L326.70 162.13 L327.24 162.51 L327.77 162.88 L328.30 163.26 L328.84 163.64 L329.37 164.01 L329.91 164.39 L330.44 164.76 L330.98 165.14 L331.51 165.51 L332.05 165.88 L332.58 166.25 L333.12 166.62 L333.65 166.98 L334.19 167.34 L334.72 167.71 L335.26 168.07 L335.79 168.42 L336.33 168.78 L336.86 169.13 L337.40 169.48 L337.93 169.83 L338.47 170.17 L339.00 170.51 L339.54 170.85 L340.07 171.19 L340.60 171.52 L341.14 171.84 L341.67 172.17 L342.21 172.49 L342.74 172.80 L343.28 173.11 L343.81 173.42 L344.35 173.72 L344.88 174.01 L345.42 174.30 L345.95 174.59 L346.49 174.87 L347.02 175.14 L347.56 175.41 L348.18 175.71 L348.81 176.00 L349.43 176.29 L350.05 176.56 L350.68 176.83 L351.30 177.08 L351.92 177.33 L352.55 177.56 L353.17 177.78 L353.80 177.99 L354.42 178.18 L355.04 178.36 L355.76 178.55 L356.47 178.73 L357.18 178.88 L357.90 179.01 L358.61 179.13 L359.32 179.22 L360.12 179.29 L360.93 179.34 L361.73 179.36 L362.53 179.34 L363.33 179.29 L364.14 179.20 L364.85 179.10 L365.56 178.96 L366.27 178.80 L366.99 178.60 L367.61 178.40 L368.24 178.18 L368.86 177.92 L369.48 177.65 L370.11 177.34 L370.64 177.05 L371.18 176.74 L371.71 176.41 L372.25 176.06 L372.78 175.69 L373.32 175.29 L373.85 174.86 L374.30 174.49 L374.74 174.10 L375.19 173.69 L375.63 173.26 L376.08 172.82 L376.53 172.35 L376.97 171.87 L377.42 171.36 L377.86 170.84 L378.31 170.29 L378.66 169.84 L379.02 169.38 L379.38 168.90 L379.73 168.41 L380.09 167.90 L380.45 167.38 L380.80 166.84 L381.16 166.29 L381.52 165.73 L381.87 165.14 L382.23 164.55 L382.59 163.93 L382.94 163.31 L383.30 162.66 L383.66 162.00 L384.01 161.32 L384.37 160.63 L384.64 160.09 L384.90 159.55 L385.17 159.00 L385.44 158.44 L385.71 157.86 L385.97 157.28 L386.24 156.69 L386.51 156.08 L386.78 155.47 L387.04 154.85 L387.31 154.21 L387.58 153.56 L387.84 152.91 L388.11 152.24 L388.38 151.56 L388.65 150.87 L388.91 150.17 L389.18 149.45 L389.45 148.73 L389.72 147.99 L389.98 147.24 L390.25 146.48 L390.52 145.71 L390.79 144.92 L391.05 144.12 L391.32 143.31 L391.59 142.49 L391.86 141.65 L392.12 140.80 L392.39 139.94 L392.66 139.06 L392.93 138.18 L393.19 137.27 L393.46 136.36 L393.73 135.43 L393.91 134.80 L394.08 134.17 L394.26 133.53 L394.44 132.88 L394.62 132.23 L394.80 131.57 L394.98 130.90 L395.15 130.23 L395.33 129.55 L395.51 128.87 L395.69 128.18 L395.87 127.48 L396.04 126.77 L396.22 126.06 L396.40 125.34 L396.58 124.62 L396.76 123.88 L396.94 123.15 L397.11 122.40 L397.29 121.65 L397.47 120.89 L397.65 120.12 L397.83 119.34 L398.01 118.56 L398.18 117.77 L398.36 116.98 L398.54 116.17 L398.72 115.36 L398.90 114.55 L399.08 113.72 L399.25 112.89 L399.43 112.05 L399.61 111.20 L399.79 110.34 L399.97 109.48 L400.15 108.60 L400.32 107.73 L400.50 106.84 L400.68 105.94 L400.86 105.04 L401.04 104.13 L401.21 103.21 L401.39 102.28 L401.57 101.34 L401.75 100.40 L401.93 99.45 L402.11 98.49 L402.28 97.52 L402.46 96.54 L402.64 95.55 L402.82 94.56 L403.00 93.56 L403.18 92.54 L403.35 91.52 L403.53 90.49 L403.71 89.45 L403.89 88.41 L404.07 87.35 L404.25 86.29 L404.42 85.21 L404.60 84.13 L404.78 83.03 L404.96 81.93 L405.14 80.82 L405.31 79.70 L405.49 78.57 L405.67 77.43 L405.85 76.28 L406.03 75.12 L406.21 73.95 L406.38 72.78 L406.56 71.59 L406.74 70.39 L406.92 69.18 L407.10 67.96 L407.28 66.73 L407.45 65.50 L407.63 64.25 L407.81 62.99 L407.99 61.72 L408.17 60.44 L408.35 59.15 L408.52 57.85 L408.70 56.54 L408.88 55.22 L409.06 53.89 L409.24 52.54 L409.41 51.19 L409.59 49.83 L409.77 48.45 L409.95 47.06 L410.13 45.66 L410.31 44.26 L410.48 42.84 L410.57 42.12 L410.66 41.40 L410.75 40.68 L410.84 39.96 L410.93 39.23 L411.02 38.51 L411.11 37.77 L411.20 37.04 L411.29 36.30 L411.38 35.56 L411.46 34.82 L411.55 34.07 L411.64 33.32 L411.73 32.57 L411.82 31.82 L411.91 31.06 L412.00 30.30 L412.09 29.53 L412.18 28.77 L412.27 28.00 L412.36 27.22 L412.45 26.45 L412.53 25.67 L412.62 24.89 L412.71 24.10 L412.80 23.31 L412.89 22.52 L412.98 21.73 L413.07 20.93 L413.16 20.13 L413.25 19.32 L413.34 18.52 L413.43 17.71 L413.51 16.89 L413.60 16.08 L413.69 15.26 L413.78 14.44 L413.87 13.61 L413.96 12.78 L414.05 11.95 L414.14 11.11 L414.23 10.28 L414.32 9.43 L414.41 8.59 L414.50 7.74 L414.58 6.89 L414.67 6.03 L414.76 5.18 L414.85 4.31 L414.94 3.45 L415.03 2.58 L415.12 1.71 L415.21 0.84 L415.30 -0.04 L415.39 -0.92 L415.48 -1.81 L415.56 -2.70" stroke="#ff00ff"/>
</g>
<g fill="none" stroke="#808080" stroke-width="2.2" >
<path d="M74.3 115.45H433.8" stroke-dasharray="7.2 2.451"/>
<path d="M358.1 115.3V228.4" stroke-dasharray="7.2 2.55"/>
<path d="M365.2 115.3V228.4" stroke-dasharray="7.2 2.55"/>
<path d="M378.3 115.3V228.4" stroke-dasharray="7.2 2.55"/>
<path d="M398.7 115.3V228.4" stroke-dasharray="7.2 2.55"/>
</g>
<path d="M68.50 3.35H431.35V228.40H68.50ZM84.50 228.40v-2.80M84.50 3.35v2.80M101.90 228.40v-2.80M101.90 3.35v2.80M119.30 228.40v-4.70M119.30 3.35v4.70M136.70 228.40v-2.80M136.70 3.35v2.80M154.10 228.40v-2.80M154.10 3.35v2.80M171.50 228.40v-2.80M171.50 3.35v2.80M188.90 228.40v-2.80M188.90 3.35v2.80M206.30 228.40v-4.70M206.30 3.35v4.70M223.70 228.40v-2.80M223.70 3.35v2.80M241.10 228.40v-2.80M241.10 3.35v2.80M258.50 228.40v-2.80M258.50 3.35v2.80M275.90 228.40v-2.80M275.90 3.35v2.80M293.30 228.40v-4.70M293.30 3.35v4.70M310.70 228.40v-2.80M310.70 3.35v2.80M328.10 228.40v-2.80M328.10 3.35v2.80M345.50 228.40v-2.80M345.50 3.35v2.80M362.90 228.40v-2.80M362.90 3.35v2.80M380.30 228.40v-4.70M380.30 3.35v4.70M397.70 228.40v-2.80M397.70 3.35v2.80M415.10 228.40v-2.80M415.10 3.35v2.80M68.50 226.82h2.80M431.35 226.82h-2.80M68.50 216.70h2.80M431.35 216.70h-2.80M68.50 206.57h2.80M431.35 206.57h-2.80M68.50 196.45h4.70M431.35 196.45h-4.70M68.50 186.32h2.80M431.35 186.32h-2.80M68.50 176.20h2.80M431.35 176.20h-2.80M68.50 166.07h2.80M431.35 166.07h-2.80M68.50 155.95h4.70M431.35 155.95h-4.70M68.50 145.82h2.80M431.35 145.82h-2.80M68.50 135.70h2.80M431.35 135.70h-2.80M68.50 125.58h2.80M431.35 125.58h-2.80M68.50 115.45h4.70M431.35 115.45h-4.70M68.50 105.33h2.80M431.35 105.33h-2.80M68.50 95.20h2.80M431.35 95.20h-2.80M68.50 85.08h2.80M431.35 85.08h-2.80M68.50 74.95h4.70M431.35 74.95h-4.70M68.50 64.83h2.80M431.35 64.83h-2.80M68.50 54.70h2.80M431.35 54.70h-2.80M68.50 44.58h2.80M431.35 44.58h-2.80M68.50 34.45h4.70M431.35 34.45h-4.70M68.50 24.33h2.80M431.35 24.33h-2.80M68.50 14.20h2.80M431.35 14.20h-2.80M68.50 4.08h2.80M431.35 4.08h-2.80" fill="none" stroke="#5e5e5e" stroke-width="0.7"/>
<g style="filter:grayscale(1)" font-family="Liberation Sans, sans-serif" font-size="10.5" fill="#000">
<text x="119.30" y="239.8" text-anchor="middle">0.1</text>
<text x="206.30" y="239.8" text-anchor="middle">0.2</text>
<text x="293.30" y="239.8" text-anchor="middle">0.3</text>
<text x="380.30" y="239.8" text-anchor="middle">0.4</text>
<text x="29.4" y="39.05" text-anchor="end">4.</text>
<text x="33.9" y="39.05" text-anchor="middle" font-size="8.6">×</text>
<text x="64.2" y="39.05" text-anchor="end">10<tspan font-size="8.3" dy="-3.4">−11</tspan></text>
<text x="29.4" y="79.55" text-anchor="end">2.</text>
<text x="33.9" y="79.55" text-anchor="middle" font-size="8.6">×</text>
<text x="64.2" y="79.55" text-anchor="end">10<tspan font-size="8.3" dy="-3.4">−11</tspan></text>
<text x="29.4" y="160.55" text-anchor="end">−2.</text>
<text x="33.9" y="160.55" text-anchor="middle" font-size="8.6">×</text>
<text x="64.2" y="160.55" text-anchor="end">10<tspan font-size="8.3" dy="-3.4">−11</tspan></text>
<text x="29.4" y="201.05" text-anchor="end">−4.</text>
<text x="33.9" y="201.05" text-anchor="middle" font-size="8.6">×</text>
<text x="64.2" y="201.05" text-anchor="end">10<tspan font-size="8.3" dy="-3.4">−11</tspan></text>
<text x="64.8" y="119.25" text-anchor="end">0</text>
<text x="0.5" y="118.65">Γ</text>
</g><g style="filter:grayscale(1)" font-family="Liberation Sans, sans-serif" font-size="11" fill="#000">
<text x="195.50" y="258.50" font-size="11">Ω</text>
<text x="206.20" y="258.50" font-size="11">(Ω</text>
<text x="218.10" y="260.80" font-size="8.5">0</text>
<text x="223.30" y="258.50" font-size="11">=0.05,</text>
<text x="257.05" y="258.50" font-size="11" font-style="italic">l</text>
<text x="260.50" y="258.50" font-size="11" font-style="italic">=</text>
<text x="266.70" y="258.50" font-size="11" font-style="italic">3</text>
<text x="272.05" y="258.50" font-size="11">,</text>
<text x="277.55" y="258.50" font-size="11" font-style="italic">m</text>
<text x="285.90" y="260.80" font-size="8.5" font-style="italic">l</text>
<text x="288.40" y="258.50" font-size="11">=</text>
<text x="294.20" y="258.50" font-size="11">1</text>
<text x="300.50" y="258.50" font-size="11">)</text>
</g>
<g stroke-width="2.1" fill="none">
<path d="M450.6 73.9H474.9" stroke="#ff0000"/>
<path d="M450.6 113.5H474.9" stroke="#00ff00"/>
<path d="M450.6 153.2H474.9" stroke="#0000ff"/>
<path d="M450.6 192.9H474.9" stroke="#ff00ff"/>
</g>
<g style="filter:grayscale(1)" font-family="Liberation Sans, sans-serif" font-size="18" fill="#000">
<text x="482.9" y="78.2">P=0.05</text>
<text x="482.9" y="117.8">P=0.10</text>
<text x="482.9" y="157.5">P=0.15</text>
<text x="482.9" y="197.2">P=0.20</text>
</g>
</svg>
</body></html>
